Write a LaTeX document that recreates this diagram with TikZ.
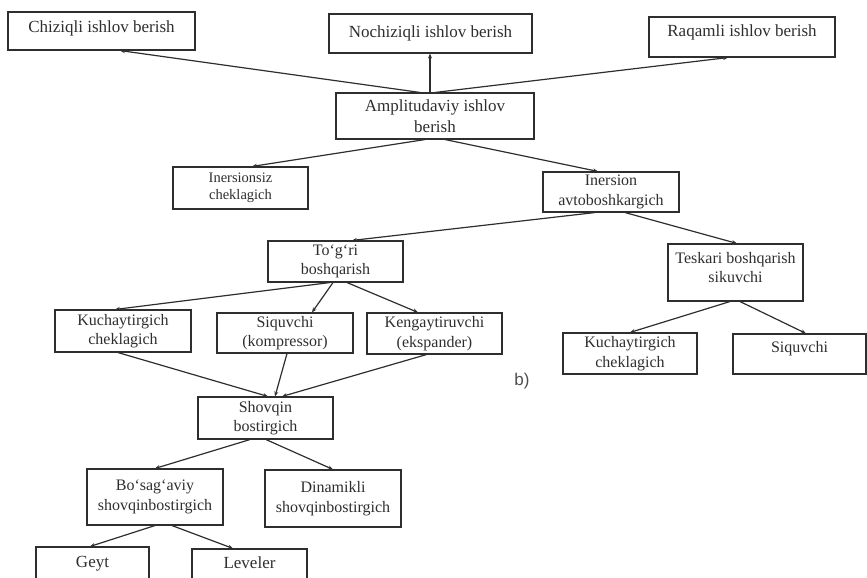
\documentclass[tikz,border=0pt]{standalone}
\usepackage{fontspec}
\setmainfont{Liberation Serif}
\newfontfamily\labfont{Liberation Sans}
\usetikzlibrary{arrows.meta,calc}
\definecolor{ink}{HTML}{2e2e2e}
\tikzset{
  box/.style={draw=ink, line width=1.1pt, text=ink, inner sep=0pt, align=center,
    font=\fontsize{16}{19.5}\selectfont},
  bigbox/.style={box, font=\fontsize{17}{20.5}\selectfont},
  arr/.style={draw=ink, line width=1.2pt, -{Stealth[length=5pt,width=4pt]}},
}
\begin{document}
\begin{tikzpicture}[x=1pt,y=-1pt]
\useasboundingbox (0,0) rectangle (867,578);
\begin{scope}
\clip (0,0) rectangle (867,578);
% top row
\node[bigbox, minimum width=187pt, minimum height=38pt, text height=4pt, text depth=0pt] (chiz) at (101.5,31) {Chiziqli ishlov berish};
\node[bigbox, minimum width=203pt, minimum height=39pt] (noch) at (430.5,33.5) {Nochiziqli ishlov berish};
\node[bigbox, minimum width=186pt, minimum height=40pt, text height=5pt, text depth=5pt] (raq) at (742,37) {Raqamli ishlov berish};
\node[bigbox, minimum width=198pt, minimum height=46pt] (amp) at (435,116) {Amplitudaviy ishlov\\berish};
% second level
\node[box, font=\fontsize{14.5}{16.5}\selectfont, minimum width=135pt, minimum height=42pt] (iner0) at (240.5,188) {Inersionsiz\\cheklagich};
\node[box, minimum width=136pt, minimum height=40pt] (iner) at (611,192) {Inersion\\avtoboshkargich};
% third
\node[box, minimum width=135pt, minimum height=41pt] (togri) at (335.5,261.5) {To‘g‘ri\\boshqarish};
\node[box, minimum width=135pt, minimum height=57pt, text depth=10pt] (tesk) at (735.5,272.5) {Teskari boshqarish\\sikuvchi};
% fourth
\node[box, minimum width=136pt, minimum height=42pt] (kuch1) at (123,331) {Kuchaytirgich\\cheklagich};
\node[box, minimum width=136pt, minimum height=40pt] (siq1) at (285,333) {Siquvchi\\(kompressor)};
\node[box, minimum width=135pt, minimum height=41pt] (keng) at (434.5,333.5) {Kengaytiruvchi\\(ekspander)};
\node[box, minimum width=134pt, minimum height=41pt] (kuch2) at (630,353.5) {Kuchaytirgich\\cheklagich};
\node[box, minimum width=133pt, minimum height=40pt, text height=0pt, text depth=4pt] (siq2) at (799.5,354) {Siquvchi};
% fifth
\node[box, minimum width=135pt, minimum height=42pt] (shov) at (265.5,418) {Shovqin\\bostirgich};
\node[box, minimum width=136pt, minimum height=56pt] (bos) at (155,497) {Bo‘sag‘aviy\\shovqinbostirgich};
\node[box, minimum width=136pt, minimum height=57pt] (din) at (333,498.5) {Dinamikli\\shovqinbostirgich};
\node[bigbox, minimum width=113pt, minimum height=43pt, text height=0pt, text depth=3pt] (geyt) at (92.5,568.5) {Geyt};
\node[bigbox, minimum width=115pt, minimum height=41pt, text height=0pt, text depth=3pt] (lev) at (249.5,569.5) {Leveler};
\node[text=ink!85, font=\labfont\fontsize{17}{20}\selectfont] (lab) at (522,381) {b)};
\end{scope}
% connectors
\draw[arr] ($(amp.north)+(-15,0)$) -- ($(chiz.south)+(18.5,0)$);
\coordinate (an) at ($(amp.north)+(-5,0)$);
\draw[arr] (an) -- (an |- noch.south);
\draw[arr] (amp.north) -- ($(raq.south)+(-14,0)$);
\draw[arr] ($(amp.south)+(-10,0)$) -- ($(iner0.north)+(11.5,0)$);
\draw[arr] ($(amp.south)+(10,0)$) -- ($(iner.north)+(-13,0)$);
\draw[arr] ($(iner.south)+(-16,0)$) -- ($(togri.north)+(16.5,0)$);
\draw[arr] ($(iner.south)+(14,0)$) -- ($(tesk.north)+(1.5,0)$);
\draw[arr] ($(togri.south)+(-5.5,0)$) -- ($(kuch1.north)+(-8,0)$);
\draw[arr] ($(togri.south)+(-2.5,0)$) -- ($(siq1.north)+(27,0)$);
\draw[arr] ($(togri.south)+(11.5,0)$) -- ($(keng.north)+(-16.5,0)$);
\draw[arr] ($(tesk.south)+(-5.5,0)$) -- (kuch2.north);
\draw[arr] ($(tesk.south)+(4.5,0)$) -- ($(siq2.north)+(6.5,0)$);
\draw[arr] ($(kuch1.south)+(-5,0)$) -- ($(shov.north)+(2.5,0)$);
\draw[arr] ($(siq1.south)+(2,0)$) -- ($(shov.north)+(9.5,0)$);
\draw[arr] ($(keng.south)+(-8,0)$) -- ($(shov.north)+(16.5,0)$);
\draw[arr] ($(shov.south)+(-15.5,0)$) -- (bos.north);
\draw[arr] ($(shov.south)+(0.5,0)$) -- (din.north);
\draw[arr] (bos.south) -- ($(geyt.north)+(-2.5,0)$);
\draw[arr] ($(bos.south)+(17,0)$) -- ($(lev.north)+(-16.5,0)$);
\end{tikzpicture}
\end{document}
